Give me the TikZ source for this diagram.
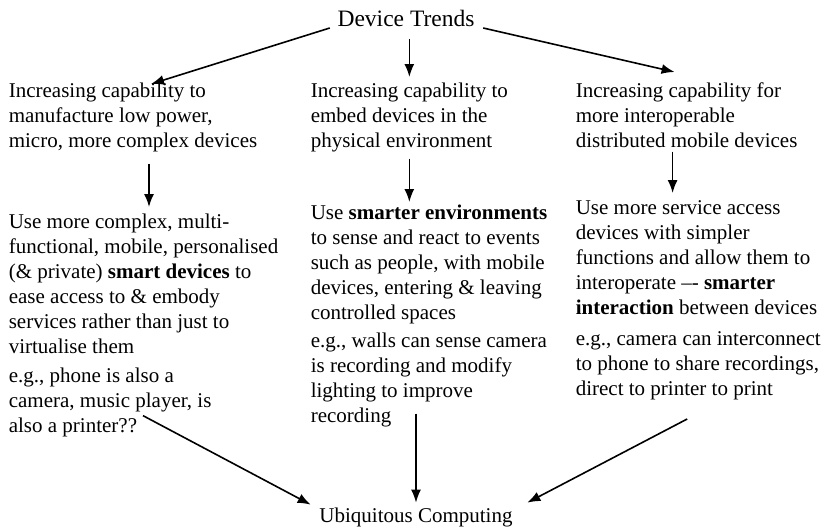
\documentclass[tikz,border=0pt]{standalone}
\usepackage{fontspec}
\setmainfont{Liberation Serif}
\usetikzlibrary{arrows.meta,positioning}

\begin{document}
\begin{tikzpicture}[x=1pt,y=1pt,>={Latex[length=13pt,width=10pt]},line width=1.6pt,
                    box/.style={inner sep=0pt,align=left,anchor=north west,font=\fontsize{21}{25}\selectfont},
                    title/.style={inner sep=0pt,anchor=base,font=\fontsize{21}{25}\selectfont}]

  \useasboundingbox (0,0) rectangle (825,-528);

  \node[title,font=\fontsize{23.5}{28}\selectfont] (trends) at (406,-26) {Device Trends};
  \node[title] (ubi) at (416,-522) {Ubiquitous Computing};

  \node[box] (cap1) at (8,-82) {Increasing capability to\\manufacture low power,\\micro, more complex devices};
  \node[box] (cap2) at (310,-82) {Increasing capability to\\embed devices in the\\physical environment};
  \node[box] (cap3) at (575,-82) {Increasing capability for\\more interoperable\\distributed mobile devices};

  \node[box] (use1) at (8,-213) {Use more complex, multi-\\functional, mobile, personalised\\(\& private) \textbf{smart devices} to\\ease access to \& embody\\services rather than just to\\virtualise them\\[4pt]e.g., phone is also a\\camera, music player, is\\also a printer??};
  \node[box] (use2) at (310,-204) {Use \textbf{smarter environments}\\to sense and react to events\\such as people, with mobile\\devices, entering \& leaving\\controlled spaces\\[3pt]e.g., walls can sense camera\\is recording and modify\\lighting to improve\\recording};
  \node[box] (use3) at (575,-200) {Use more service access\\devices with simpler\\functions and allow them to\\interoperate –- \textbf{smarter}\\\textbf{interaction} between devices\\[6pt]e.g., camera can interconnect\\to phone to share recordings,\\direct to printer to print};

  \path[->]
    ([xshift=-7pt,yshift=-2pt]trends.base west) edge ([xshift=18pt,yshift=-2pt]cap1.north)
    ([yshift=-12pt]cap2.north |- trends.south) edge ([yshift=5pt]cap2.north)
    ([xshift=8pt,yshift=-2pt]trends.base east) edge ([xshift=-12pt,yshift=10pt]cap3.north)
    ([xshift=16pt,yshift=-11pt]cap1.south) edge ([xshift=16pt,yshift=6pt]cap1.south |- use1.north)
    ([yshift=-6pt]cap2.south) edge ([yshift=2pt]cap2.south |- use2.north)
    ([xshift=-14pt,yshift=-3pt]cap3.south) edge ([xshift=-14pt,yshift=7pt]cap3.south |- use3.north)
    ([xshift=135pt,yshift=22pt]use1.south west) edge ([xshift=-8pt,yshift=2pt]ubi.north west)
    ([yshift=14pt]ubi.north |- use2.south) edge ([yshift=4pt]ubi.north)
    ([xshift=-11pt,yshift=-18pt]use3.south) edge ([xshift=14pt,yshift=4pt]ubi.north east);
\end{tikzpicture}
\end{document}
